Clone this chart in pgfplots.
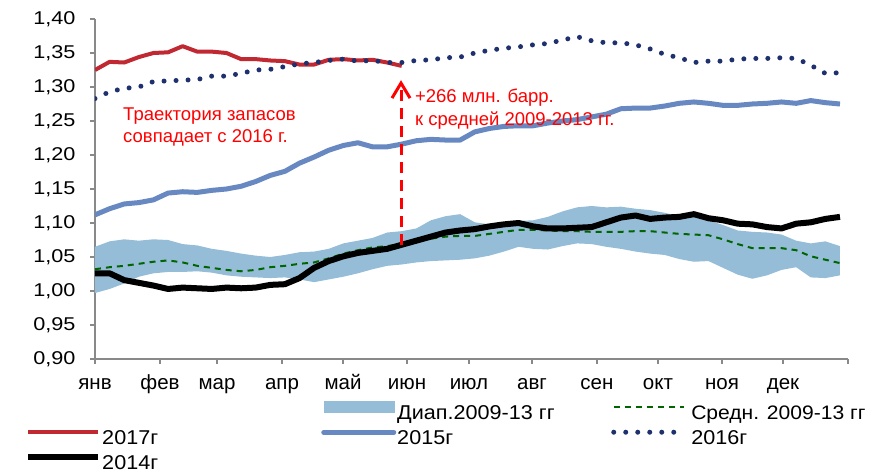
\documentclass[border=0pt]{standalone}
\usepackage{fontspec}
\setmainfont{Liberation Sans}
\newfontfamily\widefont[FakeStretch=1.17]{Liberation Sans}
\newfontfamily\legfont[FakeStretch=1.08]{Liberation Sans}
\usepackage{pgfplots}
\pgfplotsset{compat=1.18}
\usepackage{pgfplotstable}
\usetikzlibrary{arrows.meta}
\definecolor{c17}{RGB}{192,40,50}
\definecolor{c15}{RGB}{103,136,193}
\definecolor{c16}{RGB}{31,48,110}
\definecolor{cband}{RGB}{149,189,216}
\definecolor{cavg}{RGB}{0,100,0}
\definecolor{axgray}{RGB}{137,137,137}

% w = week index; avg = average 2009-13
\pgfplotstableread{
w avg a14 a15 a16
0 1.032 1.026 1.112 1.283
1 1.035 1.026 1.121 1.293
2 1.037 1.016 1.128 1.298
3 1.040 1.012 1.130 1.300
4 1.043 1.008 1.134 1.308
5 1.045 1.003 1.144 1.309
6 1.042 1.005 1.146 1.310
7 1.037 1.004 1.145 1.311
8 1.034 1.003 1.148 1.316
9 1.031 1.005 1.150 1.316
10 1.029 1.004 1.154 1.320
11 1.031 1.005 1.161 1.325
12 1.035 1.009 1.170 1.326
13 1.037 1.010 1.176 1.330
14 1.040 1.019 1.188 1.334
15 1.042 1.034 1.197 1.336
16 1.048 1.044 1.207 1.339
17 1.055 1.051 1.214 1.341
18 1.060 1.056 1.218 1.338
19 1.064 1.059 1.212 1.339
20 1.066 1.062 1.212 1.336
21 1.069 1.068 1.216 1.336
22 1.073 1.074 1.221 1.339
23 1.077 1.080 1.223 1.340
24 1.080 1.086 1.222 1.343
25 1.081 1.089 1.222 1.344
26 1.081 1.091 1.234 1.350
27 1.084 1.095 1.239 1.354
28 1.087 1.098 1.242 1.357
29 1.090 1.100 1.243 1.359
30 1.090 1.095 1.243 1.362
31 1.089 1.092 1.247 1.364
32 1.088 1.092 1.250 1.369
33 1.088 1.093 1.252 1.374
34 1.087 1.094 1.256 1.368
35 1.087 1.101 1.260 1.365
36 1.087 1.108 1.268 1.365
37 1.088 1.111 1.269 1.362
38 1.088 1.106 1.269 1.356
39 1.086 1.108 1.272 1.348
40 1.084 1.109 1.276 1.343
41 1.083 1.113 1.278 1.336
42 1.082 1.107 1.276 1.338
43 1.076 1.104 1.273 1.338
44 1.069 1.099 1.273 1.341
45 1.063 1.098 1.275 1.342
46 1.063 1.094 1.276 1.342
47 1.063 1.092 1.278 1.343
48 1.060 1.099 1.276 1.342
49 1.051 1.101 1.280 1.332
50 1.046 1.106 1.277 1.320
51 1.041 1.109 1.275 1.321
}\maindata

% range 2009-13: upper bound forward, then lower bound backward
\pgfplotstableread{
w v
0 1.065
1 1.073
2 1.076
3 1.074
4 1.076
5 1.075
6 1.069
7 1.067
8 1.062
9 1.059
10 1.055
11 1.052
12 1.050
13 1.053
14 1.057
15 1.058
16 1.062
17 1.070
18 1.074
19 1.078
20 1.086
21 1.088
22 1.092
23 1.104
24 1.110
25 1.113
26 1.101
27 1.098
28 1.101
29 1.103
30 1.104
31 1.109
32 1.117
33 1.123
34 1.125
35 1.123
36 1.124
37 1.121
38 1.119
39 1.115
40 1.110
41 1.109
42 1.104
43 1.097
44 1.089
45 1.087
46 1.086
47 1.083
48 1.074
49 1.070
50 1.073
51 1.066
51 1.023
50 1.019
49 1.020
48 1.035
47 1.031
46 1.023
45 1.018
44 1.024
43 1.034
42 1.044
41 1.043
40 1.047
39 1.053
38 1.055
37 1.058
36 1.062
35 1.065
34 1.069
33 1.070
32 1.066
31 1.061
30 1.062
29 1.065
28 1.058
27 1.052
26 1.048
25 1.046
24 1.045
23 1.044
22 1.042
21 1.039
20 1.037
19 1.032
18 1.026
17 1.021
16 1.017
15 1.013
14 1.017
13 1.020
12 1.019
11 1.020
10 1.021
9 1.023
8 1.027
7 1.029
6 1.028
5 1.028
4 1.026
3 1.021
2 1.011
1 1.003
0 0.997
}\banddata

\pgfplotstableread{
w a17
0 1.325
1 1.337
2 1.336
3 1.344
4 1.350
5 1.351
6 1.360
7 1.352
8 1.352
9 1.350
10 1.341
11 1.341
12 1.339
13 1.338
14 1.333
15 1.333
16 1.340
17 1.341
18 1.339
19 1.340
20 1.336
21 1.331
}\reddata

\begin{document}
\begin{tikzpicture}
\begin{pgfinterruptboundingbox}
\begin{axis}[
  at={(0pt,0pt)}, anchor=south west,
  scale only axis, width=753pt, height=340pt,
  font=\fontsize{18.5}{22}\selectfont,
  xmin=0, xmax=51.55, ymin=0.9, ymax=1.4,
  axis x line=bottom, axis y line=left,
  axis line style={draw=axgray, line width=1.3pt, -},
  tick style={draw=axgray, line width=1.3pt},
  tick align=outside, major tick length=5pt,
  xtick={0,4.45,8.35,12.80,16.98,21.36,25.60,29.92,34.36,38.54,42.92,47.10,51.55},
  xticklabels={янв,фев,мар,апр,май,июн,июл,авг,сен,окт,ноя,дек,{}},
  ytick={0.9,0.95,1,1.05,1.1,1.15,1.2,1.25,1.3,1.35,1.4},
  yticklabels={{0,90},{0,95},{1,00},{1,05},{1,10},{1,15},{1,20},{1,25},{1,30},{1,35},{1,40}},
  xticklabel style={font=\fontsize{20.5}{22}\selectfont, text height=15pt, text depth=5pt, yshift=-7pt},
  yticklabel style={font=\widefont\fontsize{18.5}{22}\selectfont, xshift=-11pt},
  legend columns=3,
  legend cell align=left,
  legend image code/.code={\draw[#1] (0pt,7pt) -- (70pt,7pt);},
  legend style={at={(axis description cs:-0.0929,-0.123)}, anchor=north west,
    draw=none, fill=none, inner sep=0pt, row sep=3pt,
    font=\legfont\fontsize{20}{22}\selectfont,
    nodes={inner sep=1pt, text height=15pt, text depth=5pt},
    column sep=0pt},
]
\addplot[fill=cband, draw=none, forget plot] table[x=w, y=v] {\banddata} -- cycle;
\addplot[cavg, line width=2pt, dash pattern=on 6pt off 5pt, forget plot] table[x=w, y=avg] {\maindata};
\addplot[black, line width=6pt, line join=round, forget plot] table[x=w, y=a14] {\maindata};
\addplot[c15, line width=5pt, line join=round, forget plot] table[x=w, y=a15] {\maindata};
\addplot[c17, line width=4pt, line join=round, forget plot] table[x=w, y=a17] {\reddata};
\addplot[c16, line width=5pt, line cap=round, dash pattern=on 0pt off 12pt, forget plot] table[x=w, y=a16] {\maindata};

\draw[red, line width=3pt, dash pattern=on 11pt off 7pt, -{Straight Barb[length=15pt,width=18pt,line width=3pt]}] (axis cs:20.95,1.068) -- (axis cs:20.95,1.310);
\node[anchor=base west, inner sep=0pt, text=red] at (axis cs:1.92,1.2504) {Траектория запасов};
\node[anchor=base west, inner sep=0pt, text=red] at (axis cs:1.92,1.2181) {совпадает с 2016 г.};
\node[anchor=base west, inner sep=0pt, text=red] at (axis cs:21.9,1.2765) {+266 млн. барр.};
\node[anchor=base west, inner sep=0pt, text=red] at (axis cs:21.9,1.2441) {к средней 2009-2013 гг.};
\node[rotate=90] at (axis description cs:-0.097,0.915) {трлн. барр.};

\addlegendimage{empty legend}
\addlegendentry{\makebox[218pt][l]{}}
\addlegendimage{legend image code/.code={\fill[cband] (0pt,2pt) rectangle (70pt,13pt);}}
\addlegendentry{\makebox[213pt][l]{Диап.2009-13 гг}}
\addlegendimage{cavg, line width=2pt, dash pattern=on 6pt off 5pt}
\addlegendentry{\hspace{4pt}\fontsize{19.5}{22}\selectfont Средн. 2009-13 гг}
\addlegendimage{c17, line width=4pt}
\addlegendentry{2017г}
\addlegendimage{c15, line width=5pt, line cap=round}
\addlegendentry{2015г}
\addlegendimage{c16, line width=5pt, line cap=round, dash pattern=on 0pt off 12pt}
\addlegendentry{\hspace{4pt}2016г}
\addlegendimage{black, line width=6pt}
\addlegendentry{2014г}
\end{axis}
\end{pgfinterruptboundingbox}
\path (-95pt,-114pt) rectangle (774pt,359pt);
\end{tikzpicture}
\end{document}
